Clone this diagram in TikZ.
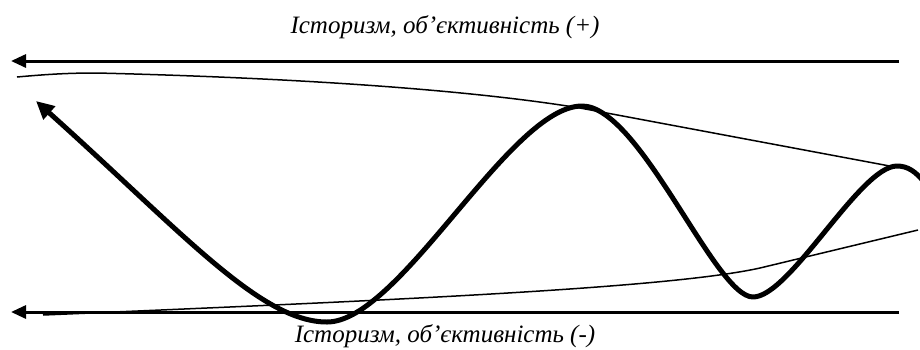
\documentclass[tikz,border=0pt]{standalone}
\usepackage{fontspec}
\setmainfont{Liberation Serif}
\usetikzlibrary{arrows.meta}
\begin{document}
\begin{tikzpicture}[x=1pt,y=-1pt,
  axis/.style={line width=3pt,-{Triangle[length=15pt,width=13pt]}},
  wave/.style={line width=5pt,line join=round,{Triangle[length=18pt,width=17pt]}-},
  envelope/.style={line width=1.5pt},
  lbl/.style={anchor=base,inner sep=0pt,font=\itshape\fontsize{25}{28}\selectfont}]
\useasboundingbox (0,0) rectangle (920,349);
% axes
\coordinate (tr) at (899,61);
\coordinate (tl) at (11,61);
\coordinate (br) at (899,312);
\coordinate (bl) at (11,312);
\draw[axis] (tr) -- (tl);
\draw[axis] (br) -- (bl);
% labels
\node[lbl] (top) at (445,33) {Історизм, об’єктивність (+)};
\node[lbl] (bot) at (445,342) {Історизм, об’єктивність (-)};
% upper envelope
\draw[envelope] (17,77) .. controls (50,74) and (70,73) .. (97,73)
  .. controls (300,78) and (470,90) .. (580,108) -- (895,167);
% lower envelope
\draw[envelope] (43,315) .. controls (400,300) and (670,288) .. (760,268) -- (918,230);
% wave
\begin{scope}
\clip (0,0) rectangle (920,349);
\draw[wave] (36,101) .. controls (180,230) and (260,322) .. (327,322)
  .. controls (400,322) and (510,106) .. (582,106)
  .. controls (640,106) and (715,297) .. (753,297)
  .. controls (790,297) and (860,166) .. (897,166)
  .. controls (908,166) and (916,172) .. (924,182);
\end{scope}
\end{tikzpicture}
\end{document}
